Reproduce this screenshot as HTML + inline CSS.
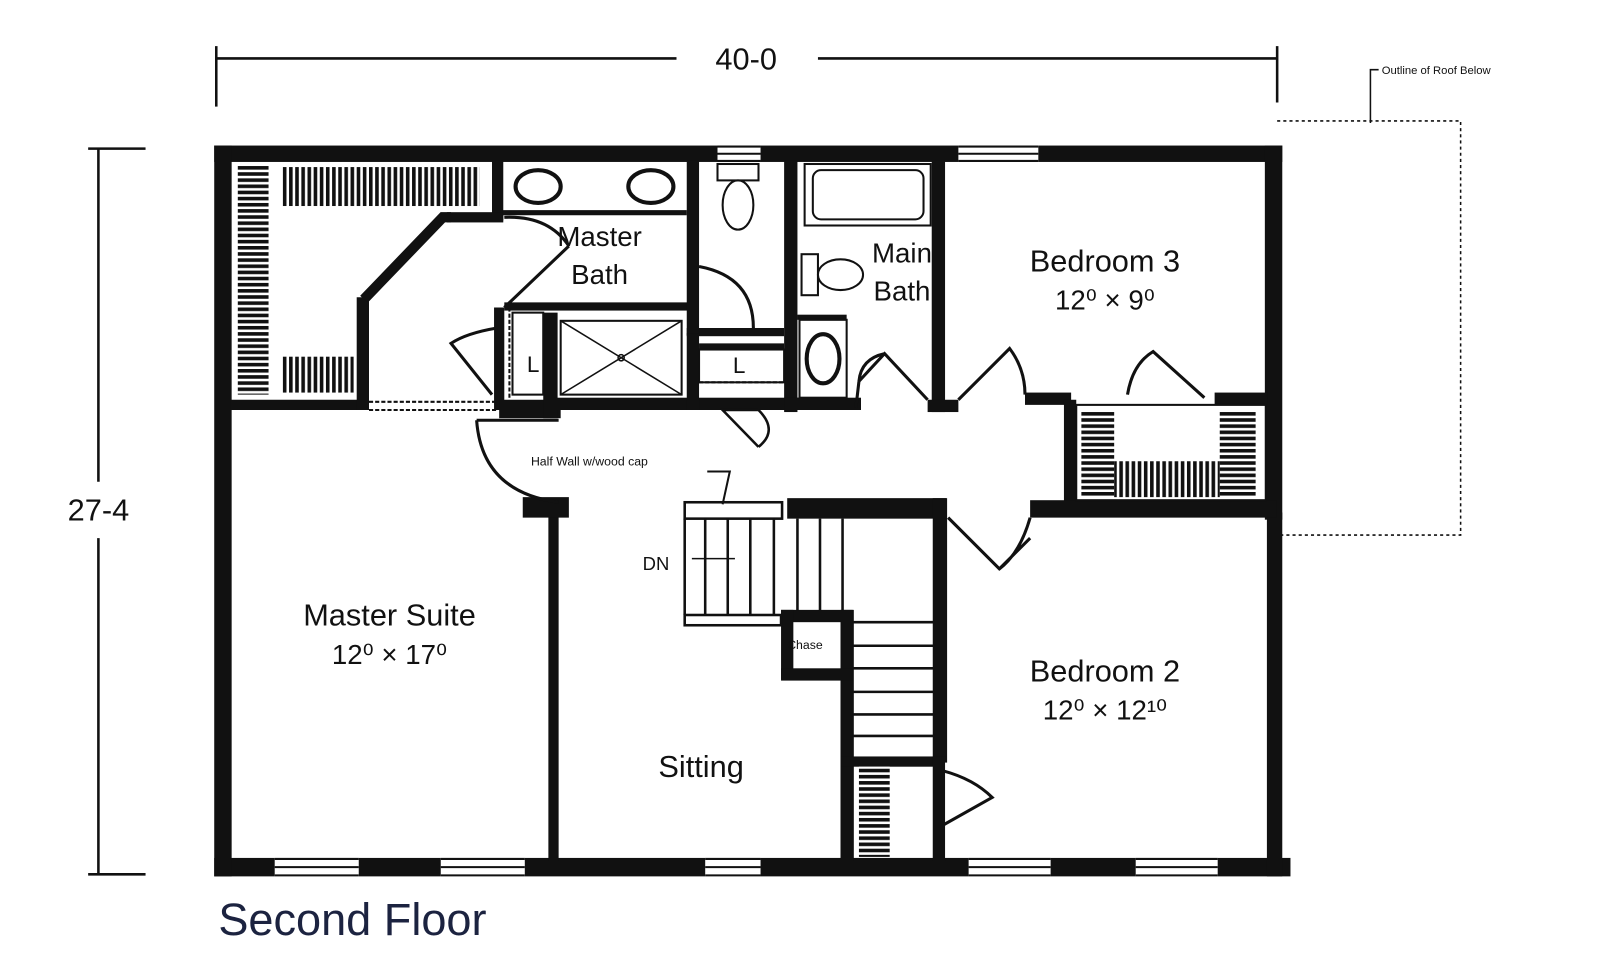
<!DOCTYPE html>
<html><head><meta charset="utf-8"><style>
html,body{margin:0;padding:0;background:#fff;}
svg{display:block;}
text{font-family:"Liberation Sans",sans-serif;fill:#111;}
</style></head><body>
<svg width="1600" height="960" viewBox="0 0 1600 960" xmlns="http://www.w3.org/2000/svg">
<defs>
<pattern id="hv" width="6" height="6" patternUnits="userSpaceOnUse"><rect width="6" height="6" fill="#fff"/><rect x="0" y="0" width="6" height="3.5" fill="#111"/></pattern>
<pattern id="hh" width="6" height="6" patternUnits="userSpaceOnUse"><rect width="6" height="6" fill="#fff"/><rect x="0" y="0" width="3.5" height="6" fill="#111"/></pattern>
</defs>
<g transform="scale(1.025)">
<g stroke="#111" fill="none" stroke-width="2.5">
<line x1="210" y1="57" x2="660" y2="57"/><line x1="798" y1="57" x2="1246" y2="57"/>
<line x1="211" y1="45" x2="211" y2="104"/><line x1="1246" y1="45" x2="1246" y2="100"/>
<line x1="96" y1="145" x2="96" y2="470"/><line x1="96" y1="525" x2="96" y2="853"/>
<line x1="86" y1="145" x2="142" y2="145"/><line x1="86" y1="853" x2="142" y2="853"/>
<polyline points="1246,118 1425,118 1425,522 1250,522" stroke-dasharray="3,3" stroke-width="1.5"/>
<polyline points="1337,120 1337,68 1345,68" stroke-width="1.5"/>
</g>
<text x="728" y="68" font-size="30" text-anchor="middle">40-0</text>
<text x="96" y="508" font-size="30" text-anchor="middle">27-4</text>
<text x="1348" y="72" font-size="11">Outline of Roof Below</text>
<text x="213" y="912" font-size="44" style="fill:#1c2340">Second Floor</text>

<g fill="#111">
<rect x="209" y="142" width="1042" height="16"/>
<rect x="209" y="837" width="1050" height="18"/>
<rect x="209" y="142" width="17" height="713"/>
<rect x="1234" y="142" width="17" height="365"/>
<rect x="1236" y="500" width="15" height="355"/>
<rect x="225" y="390" width="130" height="10"/>
<rect x="348" y="290" width="12" height="110"/>
<rect x="480" y="157" width="11" height="58"/>
<rect x="436" y="207" width="55" height="10"/>
<rect x="482" y="300" width="10" height="100"/>
<rect x="487" y="390" width="60" height="18"/>
<rect x="530" y="305" width="14" height="103"/>
<rect x="492" y="295" width="188" height="8"/>
<rect x="490" y="205" width="180" height="5"/>
<rect x="540" y="388" width="240" height="12"/>
<rect x="670" y="157" width="12" height="170"/>
<rect x="670" y="320" width="95" height="8"/>
<rect x="670" y="325" width="12" height="75"/>
<rect x="682" y="335" width="83" height="6"/>
<rect x="765" y="157" width="13" height="245"/>
<rect x="765" y="388" width="75" height="12"/>
<rect x="778" y="307" width="48" height="5"/>
<rect x="909" y="157" width="13" height="245"/>
<rect x="905" y="390" width="30" height="12"/>
<rect x="1000" y="383" width="45" height="12"/>
<rect x="1185" y="383" width="52" height="12"/>
<rect x="1038" y="390" width="12" height="112"/>
<rect x="1005" y="488" width="240" height="17"/>
<rect x="768" y="486" width="155" height="20"/>
<rect x="910" y="486" width="14" height="258"/>
<rect x="820" y="595" width="13" height="245"/>
<rect x="762" y="595" width="70" height="12"/>
<rect x="762" y="595" width="12" height="68"/>
<rect x="762" y="652" width="70" height="12"/>
<rect x="820" y="738" width="100" height="10"/>
<rect x="910" y="738" width="12" height="102"/>
<rect x="535" y="490" width="10" height="350"/>
<rect x="510" y="485" width="45" height="20"/>
<rect x="700" y="138" width="42" height="22" fill="#fff"/>
<rect x="935" y="138" width="78" height="22" fill="#fff"/>
<rect x="268" y="833" width="82" height="24" fill="#fff"/>
<rect x="430" y="833" width="82" height="24" fill="#fff"/>
<rect x="688" y="833" width="54" height="24" fill="#fff"/>
<rect x="945" y="833" width="80" height="24" fill="#fff"/>
<rect x="1108" y="833" width="80" height="24" fill="#fff"/>
</g>
<g stroke="#111" fill="none" stroke-width="2">
<path d="M700 143h42M700 150h42M700 157h42M935 143h78M935 150h78M935 157h78"/>
<path d="M268 838h82M268 846h82M268 854h82M430 838h82M430 846h82M430 854h82M688 838h54M688 846h54M688 854h54M945 838h80M945 846h80M945 854h80M1108 838h80M1108 846h80M1108 854h80"/>
</g>
<rect x="232" y="160" width="30" height="225" fill="url(#hv)"/>
<rect x="275" y="163" width="193" height="38" fill="url(#hh)"/>
<rect x="275" y="348" width="70" height="35" fill="url(#hh)"/>
<rect x="1055" y="400" width="32" height="85" fill="url(#hv)"/>
<rect x="1190" y="400" width="35" height="85" fill="url(#hv)"/>
<rect x="1087" y="450" width="103" height="35" fill="url(#hh)"/>
<rect x="838" y="748" width="30" height="88" fill="url(#hv)"/>

<g stroke="#111" fill="none" stroke-width="3">
<path d="M355 292 L432 212 L440 212" stroke-width="10"/>
<line x1="364" y1="296" x2="430" y2="226" stroke="#fff" stroke-width="4"/>
<path d="M360 392h125M360 400h125" stroke-dasharray="4,2" stroke-width="2"/>
<path d="M682 373h83" stroke-dasharray="4,2" stroke-width="2"/>
<path d="M497 300v90" stroke-dasharray="4,2" stroke-width="2"/>
<path d="M492 300 L555 240 M492 212 Q535 210 555 240"/>
<path d="M682 260 Q735 270 735 320"/>
<path d="M485 320 Q455 325 440 335 L480 385"/>
<path d="M465 410 H545 M465 410 Q470 480 545 490"/>
<rect x="500" y="305" width="30" height="80" stroke-width="2"/>
<rect x="682" y="341" width="83" height="32" stroke-width="2"/>
<rect x="547" y="313" width="118" height="72" stroke-width="2"/>
<path d="M547 313 L665 385 M665 313 L547 385" stroke-width="1.5"/>
<circle cx="606" cy="349" r="3" stroke-width="1.5"/>
<ellipse cx="525" cy="182" rx="22" ry="16" stroke-width="4"/>
<ellipse cx="635" cy="182" rx="22" ry="16" stroke-width="4"/>
<rect x="700" y="160" width="40" height="16" stroke-width="2"/>
<ellipse cx="720" cy="200" rx="15" ry="24" stroke-width="2"/>
<rect x="785" y="160" width="123" height="60" stroke-width="2"/>
<rect x="793" y="166" width="108" height="48" rx="8" stroke-width="2"/>
<rect x="782" y="248" width="16" height="40" stroke-width="2"/>
<ellipse cx="820" cy="268" rx="22" ry="15" stroke-width="2"/>
<rect x="780" y="312" width="46" height="76" stroke-width="2"/>
<ellipse cx="803" cy="350" rx="16" ry="24" stroke-width="4"/>
<path d="M740 400 L705 400 L740 436 M740 400 Q760 420 740 436" stroke-width="2.5"/>
<path d="M835 398 L838 372 L863 345 L905 390 M838 372 Q840 350 863 345"/>
<path d="M935 390 L985 340 Q1000 360 1000 385"/>
<path d="M1100 385 Q1105 355 1125 343 L1175 388"/>
<path d="M925 505 L975 555 Q995 540 1005 505 M975 555 L1005 525"/>
<path d="M920 805 L968 778 Q950 760 920 752"/>
<rect x="668" y="490" width="95" height="16" stroke-width="2.5"/>
<rect x="668" y="600" width="94" height="10" stroke-width="2.5"/>
<path d="M668 506v94M688 506v94M710 506v94M732 506v94M755 506v94M778 506v90M800 506v90M822 506v90" stroke-width="2.5"/>
<path d="M832 607h80M832 630h80M832 652h80M832 675h80M832 697h80M832 718h80" stroke-width="2.5"/>
<path d="M675 545h42" stroke-width="1.5"/>
<path d="M690 460 L712 460 L705 492" stroke-width="2"/>
<rect x="1050" y="395" width="185" height="93" stroke-width="2"/>
</g>
<g font-size="27" text-anchor="middle">
<text x="585" y="240">Master</text>
<text x="585" y="277">Bath</text>
<text x="880" y="256">Main</text>
<text x="880" y="293">Bath</text>
<text x="1078" y="265" font-size="30">Bedroom 3</text>
<text x="1078" y="302">12⁰ × 9⁰</text>
<text x="380" y="610" font-size="30">Master Suite</text>
<text x="380" y="648">12⁰ × 17⁰</text>
<text x="684" y="758" font-size="30">Sitting</text>
<text x="1078" y="665" font-size="30">Bedroom 2</text>
<text x="1078" y="702">12⁰ × 12¹⁰</text>
</g>
<text x="514" y="363" font-size="22">L</text>
<text x="715" y="364" font-size="22">L</text>
<text x="627" y="556" font-size="18">DN</text>
<text x="768" y="633" font-size="12">Chase</text>
<text x="518" y="454" font-size="12">Half Wall w/wood cap</text>
</g>
</svg>
</body></html>
